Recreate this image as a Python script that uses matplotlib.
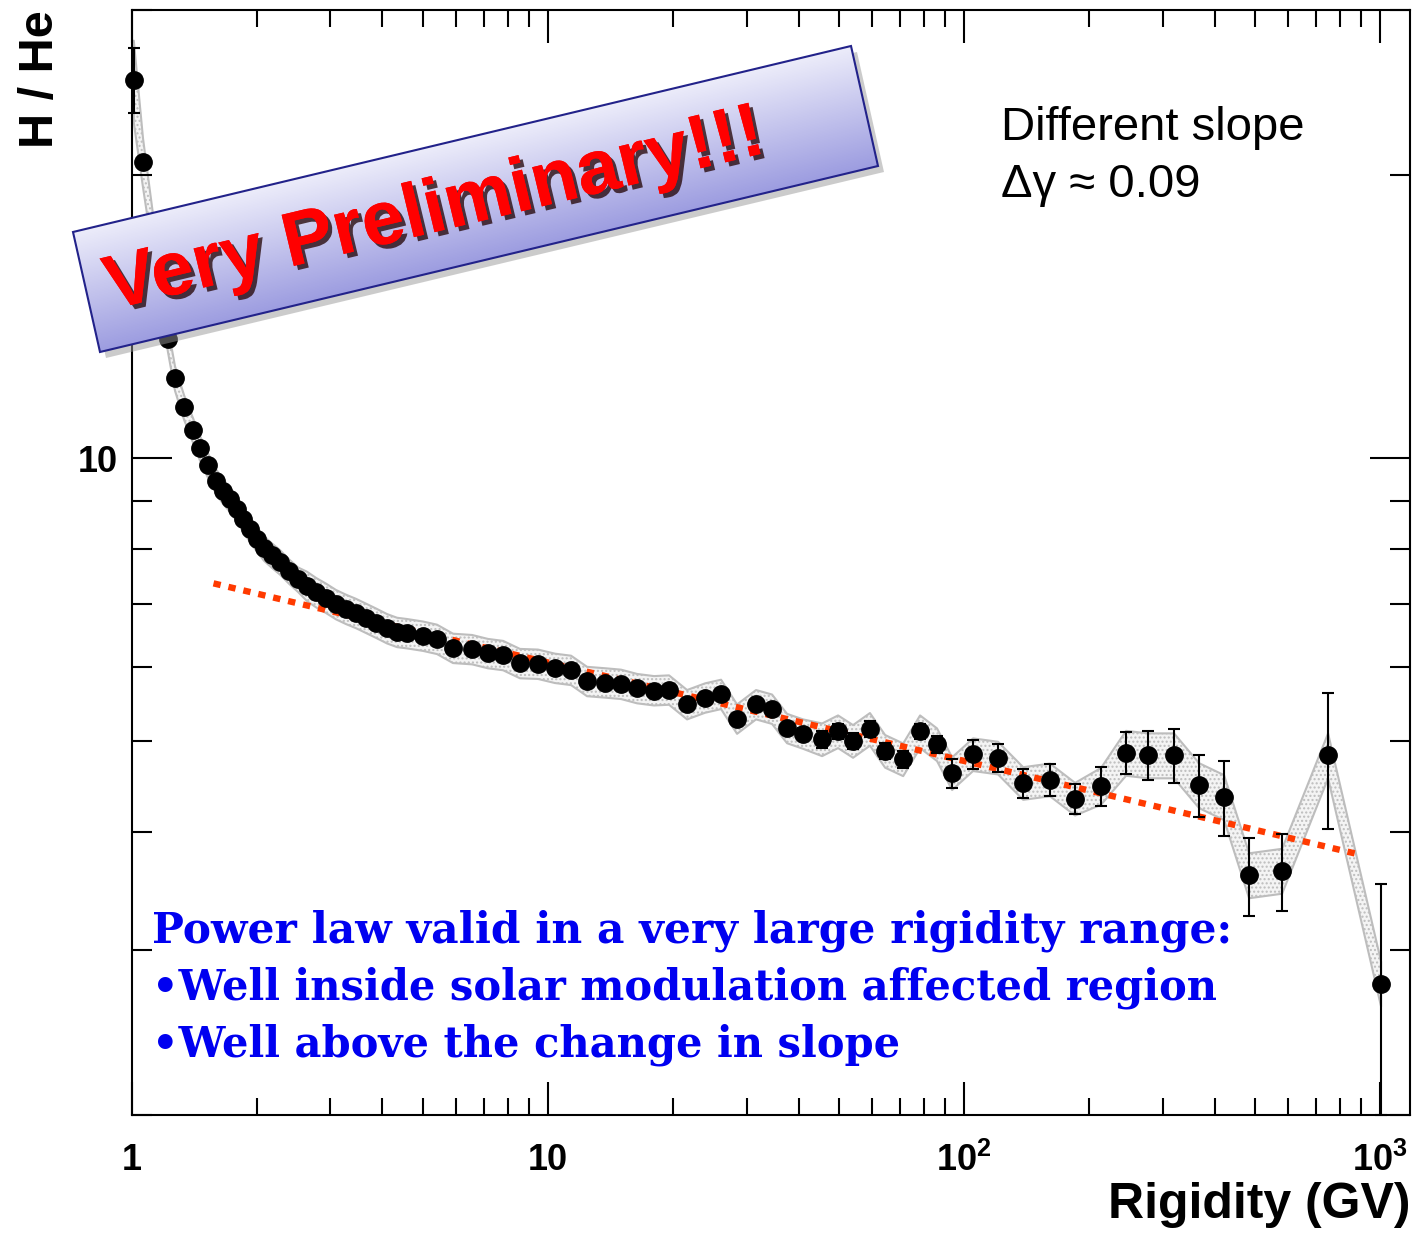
import numpy as np
import matplotlib
matplotlib.use("Agg")
import matplotlib.pyplot as plt
from matplotlib.patches import Polygon
from matplotlib.colors import LinearSegmentedColormap
from matplotlib.ticker import LogLocator, FixedLocator, FixedFormatter, NullFormatter
import matplotlib.patheffects as pe

plt.rcParams['font.family'] = ['Liberation Sans', 'DejaVu Sans']
plt.rcParams['mathtext.fontset'] = 'custom'
plt.rcParams['mathtext.rm'] = 'Liberation Sans:bold'
plt.rcParams['mathtext.it'] = 'Liberation Sans:bold'
plt.rcParams['mathtext.bf'] = 'Liberation Sans:bold'
plt.rcParams['hatch.color'] = '#c0c0c0'
plt.rcParams['hatch.linewidth'] = 1.0

# H/He flux ratio vs rigidity
rigidity = [1.01, 1.063, 1.22, 1.269, 1.334, 1.402, 1.457, 1.522, 1.592, 1.655,
            1.72, 1.788, 1.849, 1.921, 1.997, 2.076, 2.17, 2.27, 2.385, 2.506,
            2.634, 2.769, 2.926, 3.093, 3.268, 3.455, 3.651, 3.859, 4.10, 4.336,
            4.58, 5.005, 5.41, 5.91, 6.57, 7.17, 7.80, 8.56, 9.46, 10.39,
            11.36, 12.41, 13.71, 14.98, 16.37, 17.98, 19.54, 21.59, 23.85, 26.06,
            28.47, 31.62, 34.55, 37.54, 41.02, 45.58, 49.79, 54.1, 59.4, 64.6,
            71.4, 78.4, 86.1, 93.6, 105.1, 120.7, 138.7, 160.9, 184.9, 213.4,
            245.1, 276.9, 319.7, 367.2, 421.7, 484.3, 581.4, 749.9, 1005.6]
ratio = [25.3, 20.65, 13.38, 12.16, 11.33, 10.71, 10.25, 9.83, 9.45, 9.22,
         9.04, 8.83, 8.61, 8.40, 8.20, 8.02, 7.88, 7.75, 7.58, 7.43,
         7.31, 7.20, 7.10, 6.99, 6.91, 6.84, 6.76, 6.68, 6.59, 6.53,
         6.51, 6.47, 6.42, 6.28, 6.26, 6.20, 6.17, 6.05, 6.04, 5.98,
         5.95, 5.79, 5.77, 5.75, 5.69, 5.66, 5.67, 5.47, 5.56, 5.61,
         5.28, 5.47, 5.41, 5.16, 5.09, 5.02, 5.12, 5.00, 5.15, 4.88,
         4.78, 5.12, 4.96, 4.62, 4.84, 4.80, 4.51, 4.55, 4.34, 4.48,
         4.86, 4.83, 4.83, 4.49, 4.36, 3.60, 3.64, 4.83, 2.76]
stat_err = [2.0, 0.3, 0.1, 0.1, 0.1, 0.1, 0.1, 0.1, 0.1, 0.1,
            0.05, 0.05, 0.05, 0.05, 0.05, 0.05, 0.05, 0.05, 0.05, 0.05,
            0.05, 0.05, 0.05, 0.05, 0.05, 0.05, 0.05, 0.05, 0.05, 0.05,
            0.05, 0.05, 0.05, 0.05, 0.05, 0.05, 0.05, 0.05, 0.05, 0.05,
            0.07, 0.07, 0.07, 0.07, 0.07, 0.07, 0.07, 0.07, 0.07, 0.07,
            0.07, 0.07, 0.07, 0.07, 0.07, 0.1, 0.1, 0.1, 0.1, 0.1,
            0.1, 0.1, 0.1, 0.16, 0.17, 0.17, 0.16, 0.18, 0.16, 0.21,
            0.25, 0.29, 0.32, 0.34, 0.40, 0.34, 0.34, 0.8, 0.76]
# relative half-width of the grey systematic band
sys_rel = [0.10, 0.06, 0.03, 0.03, 0.03, 0.03, 0.03, 0.03, 0.03, 0.03,
           0.03, 0.03, 0.03, 0.03, 0.03, 0.03, 0.03, 0.03, 0.03, 0.03,
           0.036, 0.036, 0.036, 0.036, 0.036, 0.036, 0.036, 0.036, 0.036, 0.036,
           0.036, 0.036, 0.036, 0.036, 0.036, 0.036, 0.036, 0.036, 0.036, 0.036,
           0.036, 0.036, 0.036, 0.036, 0.036, 0.036, 0.036, 0.036, 0.036, 0.036,
           0.036, 0.036, 0.036, 0.036, 0.036, 0.04, 0.04, 0.04, 0.04, 0.04,
           0.04, 0.04, 0.04, 0.04, 0.04, 0.04, 0.04, 0.04, 0.04, 0.045,
           0.055, 0.055, 0.055, 0.055, 0.055, 0.055, 0.055, 0.055, 0.055]

# power-law fit (end points)
fit_x = [1.57, 885.0]
fit_y = [7.36, 3.79]

x_ticks = [1, 10, 100, 1000]
x_tick_labels = ['1', '10', r'$10^{2}$', r'$10^{3}$']
y_ticks = [10]
y_tick_labels = ['10']


def main():
    fig = plt.figure(figsize=(14.14, 12.33), dpi=100)
    W, H = 1414.0, 1233.0
    ax = fig.add_axes([132 / W, 1 - 1115 / H, (1410 - 132) / W, (1115 - 10) / H])
    ax.set_xscale('log')
    ax.set_yscale('log')

    x = np.array(rigidity)
    y = np.array(ratio)
    s = np.array(sys_rel)

    ax.fill_between(x, y * (1 - s), y * (1 + s), facecolor='#f4f4f4',
                    edgecolor='#bdbdbd', hatch='....', lw=1.5, zorder=1)
    ax.plot(fit_x, fit_y, color='#ff3a00', lw=4.6, dashes=(1.15, 1.25), zorder=3)
    ax.errorbar(x, y, yerr=stat_err, fmt='o', color='black', ms=12.5,
                elinewidth=1.5, capsize=4.5, capthick=1.5, zorder=4, clip_on=False)

    ax.set_xlim(1, 1180)
    ax.set_ylim(2.0, 30)

    ax.xaxis.set_major_locator(FixedLocator(x_ticks))
    ax.xaxis.set_major_formatter(FixedFormatter(x_tick_labels))
    ax.xaxis.set_minor_locator(LogLocator(base=10, subs=range(2, 10), numticks=20))
    ax.xaxis.set_minor_formatter(NullFormatter())
    ax.yaxis.set_major_locator(FixedLocator(y_ticks))
    ax.yaxis.set_major_formatter(FixedFormatter(y_tick_labels))
    ax.yaxis.set_minor_locator(LogLocator(base=10, subs=range(2, 10), numticks=20))
    ax.yaxis.set_minor_formatter(NullFormatter())

    ax.tick_params(which='both', direction='in', top=True, right=True, width=1.5)
    ax.tick_params(axis='x', which='major', length=23.8, pad=20, labelsize=26)
    ax.tick_params(axis='x', which='minor', length=11.9)
    ax.tick_params(axis='y', which='major', length=28.8, pad=10, labelsize=26)
    ax.tick_params(axis='y', which='minor', length=14.4)
    for lab in ax.get_xticklabels() + ax.get_yticklabels():
        lab.set_fontweight('bold')
    for sp in ax.spines.values():
        sp.set_linewidth(1.5)

    ax.set_xlabel('Rigidity (GV)', fontsize=36, fontweight='bold', loc='right', labelpad=2)
    ax.set_ylabel('H / He', fontsize=35, fontweight='bold', loc='top', labelpad=11)

    # overlay in pixel coordinates for the annotations
    ov = fig.add_axes([0, 0, 1, 1])
    ov.set_axis_off()
    ov.patch.set_alpha(0)

    ov.text(1001, 128, 'Different slope', fontsize=34, va='center', ha='left')
    ov.text(1001, 185, '\u0394\u03b3 \u2248 0.09', fontsize=34, va='center', ha='left')

    blue = '#0000f0'
    lines = ['Power law valid in a very large rigidity range:',
             '\u2022Well inside solar modulation affected region',
             '\u2022Well above the change in slope']
    for i, line in enumerate(lines):
        ov.text(152, 931 + 57 * i, line, family='DejaVu Serif', fontweight='bold',
                fontsize=30.5 if i == 0 else 30, color=blue, va='center', ha='left')

    # "Very Preliminary" banner
    corners = [(73, 232), (851, 46), (878, 166), (100, 352)]
    shadow = Polygon([(cx + 6, cy + 6) for cx, cy in corners], closed=True,
                     facecolor='#999999', edgecolor='none', alpha=0.5)
    ov.add_patch(shadow)
    box = Polygon(corners, closed=True, facecolor='none', edgecolor='#22228a', lw=1.5, zorder=3)
    ov.add_patch(box)
    gx, gy = np.meshgrid(np.arange(73, 879), np.arange(46, 353))
    t = ((gx - 73) * 0.2325 + (gy - 232) * 0.9725) / 123.0
    cmap = LinearSegmentedColormap.from_list('banner', ['#ececfa', '#9c9ce0'])
    im = ov.imshow(t, cmap=cmap, vmin=0, vmax=1, extent=(73, 879, 353, 46),
                   origin='upper', aspect='auto', zorder=2)
    clip = Polygon(corners, closed=True, transform=ov.transData)
    im.set_clip_path(clip)
    txt = ov.text(435, 212, 'Very Preliminary!!!', fontsize=55, fontweight='bold',
                  color='#ff0000', rotation=13.5, rotation_mode='anchor',
                  ha='center', va='center', zorder=4)
    txt.set_path_effects([pe.withSimplePatchShadow(offset=(3, -3), shadow_rgbFace='#200000', alpha=0.75),
                          pe.Normal()])

    ov.set_xlim(0, W)
    ov.set_ylim(H, 0)

    fig.savefig('out.png', dpi=100)


if __name__ == "__main__":
    main()
